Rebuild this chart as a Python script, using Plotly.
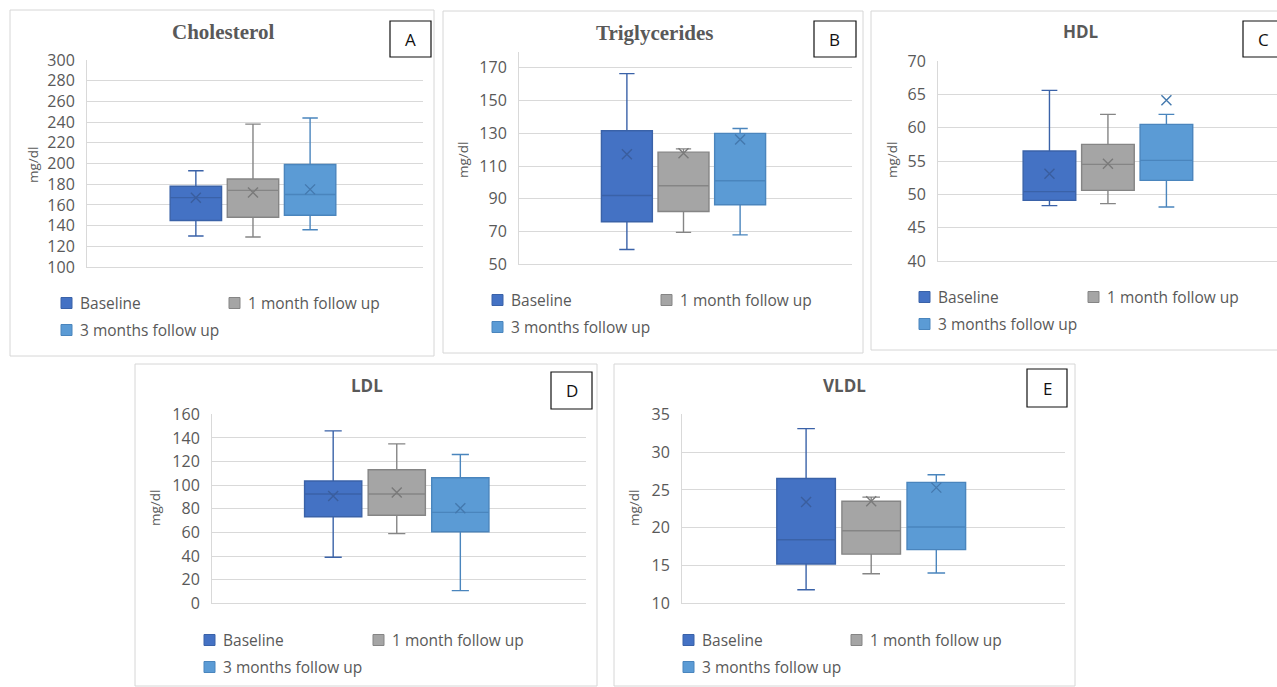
import plotly.graph_objects as go

W, H = 1277, 687

groups = ["Baseline", "1 month follow up", "3 months follow up"]
fills = ["#4472C4", "#A5A5A5", "#5B9BD5"]
edges = ["#3A62A8", "#858585", "#4A85BD"]
mean_colors = ["#3A5E9E", "#7A7A7A", "#4479AE"]

# Five-number summaries plus mean: [Baseline, 1 month, 3 months]
chol_low = [130, 129, 136]
chol_q1 = [145, 148, 150]
chol_med = [167, 174, 170]
chol_q3 = [178, 185, 199]
chol_high = [193, 238, 244]
chol_mean = [167, 172, 175]

tg_low = [59, 69.5, 68]
tg_q1 = [76, 82.3, 86.4]
tg_med = [92, 98, 101]
tg_q3 = [131.6, 118.5, 130]
tg_high = [166.5, 120.5, 133]
tg_mean = [117.2, 117.8, 126.3]

hdl_low = [48.3, 48.6, 48.1]
hdl_q1 = [49.1, 50.6, 52.1]
hdl_med = [50.4, 54.5, 55.1]
hdl_q3 = [56.5, 57.5, 60.5]
hdl_high = [65.6, 62.0, 62.0]
hdl_mean = [53.1, 54.6, 64.1]

ldl_low = [39, 59, 10.7]
ldl_q1 = [73.3, 74.5, 60.6]
ldl_med = [92.5, 92.5, 77]
ldl_q3 = [103.5, 113, 106.3]
ldl_high = [146, 135, 126]
ldl_mean = [90.8, 93.8, 80.5]

vldl_low = [11.8, 13.9, 14.0]
vldl_q1 = [15.2, 16.5, 17.1]
vldl_med = [18.4, 19.6, 20.1]
vldl_q3 = [26.5, 23.5, 26.0]
vldl_high = [33.1, 24.05, 27.0]
vldl_mean = [23.4, 23.5, 25.3]

panels = [
    dict(title="Cholesterol", serif=True, letter="A",
         low=chol_low, q1=chol_q1, med=chol_med, q3=chol_q3, high=chol_high, mean=chol_mean,
         yrange=[100, 300], ticks=list(range(100, 301, 20)),
         px=(87, 423), py=(60, 267), frame=(10, 10, 434, 356),
         title_xy=(223, 32), letter_box=(390, 21, 431, 57), ytitle_xy=(33, 165),
         leg=(61, 229, 303, 330)),
    dict(title="Triglycerides", serif=True, letter="B",
         low=tg_low, q1=tg_q1, med=tg_med, q3=tg_q3, high=tg_high, mean=tg_mean,
         yrange=[50, 180], ticks=list(range(50, 171, 20)),
         px=(519, 852), py=(51.5, 264.3), frame=(443, 11, 863, 353),
         title_xy=(654, 33), letter_box=(814, 21, 856, 57), ytitle_xy=(463, 160),
         leg=(492, 661, 300, 327)),
    dict(title="HDL", serif=False, letter="C",
         low=hdl_low, q1=hdl_q1, med=hdl_med, q3=hdl_q3, high=hdl_high, mean=hdl_mean,
         yrange=[40, 70], ticks=list(range(40, 71, 5)),
         px=(938, 1282), py=(61, 261), frame=(871, 11, 1290, 350),
         title_xy=(1081, 31), letter_box=(1243, 21, 1290, 57), ytitle_xy=(892, 160),
         leg=(919, 1088, 297, 324)),
    dict(title="LDL", serif=False, letter="D",
         low=ldl_low, q1=ldl_q1, med=ldl_med, q3=ldl_q3, high=ldl_high, mean=ldl_mean,
         yrange=[0, 160], ticks=list(range(0, 161, 20)),
         px=(212, 586), py=(414.3, 603.3), frame=(135, 364, 597, 686),
         title_xy=(367, 385), letter_box=(551, 372, 592, 409), ytitle_xy=(155, 508),
         leg=(204, 373, 640, 667)),
    dict(title="VLDL", serif=False, letter="E",
         low=vldl_low, q1=vldl_q1, med=vldl_med, q3=vldl_q3, high=vldl_high, mean=vldl_mean,
         yrange=[10, 35], ticks=list(range(10, 36, 5)),
         px=(682, 1065), py=(414.3, 603.3), frame=(614, 364, 1075, 686),
         title_xy=(844, 385), letter_box=(1027, 369, 1067, 407), ytitle_xy=(634, 508),
         leg=(683, 851, 640, 667)),
]

offsets = [-0.176, -0.006, 0.164]
box_w = 0.153
text_col = "#595959"
grid_col = "#D9D9D9"
sans = "Open Sans, Noto Sans, sans-serif"
serif = "Liberation Serif, DejaVu Serif, serif"

fig = go.Figure()
shapes, annotations = [], []


def fx(v):
    return v / W


def fy(v):
    return 1 - v / H


def label(text, x, y, font, **kw):
    d = dict(text=text, xref="paper", yref="paper", x=fx(x), y=fy(y),
             xanchor="center", yanchor="middle", showarrow=False, font=font)
    d.update(kw)
    annotations.append(d)


for i, p in enumerate(panels):
    n = "" if i == 0 else str(i + 1)
    xa, ya = "x" + n, "y" + n
    x0, x1 = p["px"]
    full_w = x1 - x0
    x1c = min(x1, W)
    xr = [-0.5, -0.5 + (x1c - x0) / full_w]

    for k in range(3):
        fig.add_trace(go.Box(
            x=[offsets[k]], q1=[p["q1"][k]], median=[p["med"][k]], q3=[p["q3"][k]],
            lowerfence=[p["low"][k]], upperfence=[p["high"][k]],
            width=box_w, whiskerwidth=0.3, fillcolor=fills[k],
            line=dict(color=edges[k], width=1.4), name=groups[k],
            boxpoints=False, showlegend=False, hoverinfo="skip",
            xaxis=xa, yaxis=ya))
        fig.add_trace(go.Scatter(
            x=[offsets[k]], y=[p["mean"][k]], mode="markers",
            marker=dict(symbol="x-thin", size=10,
                        line=dict(color=mean_colors[k], width=1.4)),
            showlegend=False, hoverinfo="skip", xaxis=xa, yaxis=ya))

    fig.layout["xaxis" + n] = dict(
        domain=[fx(x0), fx(x1c)], range=xr, anchor=ya,
        showticklabels=False, showgrid=False, zeroline=False,
        showline=True, linecolor=grid_col, linewidth=1, fixedrange=True)
    fig.layout["yaxis" + n] = dict(
        domain=[fy(p["py"][1]), fy(p["py"][0])], range=p["yrange"], anchor=xa,
        tickvals=p["ticks"], showgrid=True, gridcolor=grid_col, gridwidth=1,
        zeroline=False, showline=True, linecolor=grid_col, linewidth=1,
        ticks="", ticklabelstandoff=8,
        tickfont=dict(family=sans, size=16, color=text_col), fixedrange=True)

    # panel frame
    fx0, fy0, fx1, fy1 = p["frame"]
    shapes.append(dict(type="rect", xref="paper", yref="paper",
                       x0=fx(fx0), x1=fx(fx1), y0=fy(fy1), y1=fy(fy0),
                       line=dict(color="#D6D6D6", width=1), layer="below"))
    # letter box
    lx0, ly0, lx1, ly1 = p["letter_box"]
    shapes.append(dict(type="rect", xref="paper", yref="paper",
                       x0=fx(lx0), x1=fx(lx1), y0=fy(ly1), y1=fy(ly0),
                       line=dict(color="#111111", width=1.2), fillcolor="white"))
    lcx = (lx0 + lx1) / 2 if lx1 <= W else lx0 + 20
    label(p["letter"], lcx, (ly0 + ly1) / 2,
          dict(family=sans, size=17, color="#111111"))
    # title
    tx, ty = p["title_xy"]
    if p["serif"]:
        tfont = dict(family=serif, size=21, color=text_col, weight="bold")
    else:
        tfont = dict(family=sans, size=17, color=text_col, weight="bold")
    label(p["title"], tx, ty, tfont)
    # y axis title
    ax_, ay_ = p["ytitle_xy"]
    label("mg/dl", ax_, ay_, dict(family=sans, size=13.5, color=text_col), textangle=-90)
    # legend
    lc1, lc2, r1, r2 = p["leg"]
    for k, (cx, cy) in enumerate([(lc1, r1), (lc2, r1), (lc1, r2)]):
        shapes.append(dict(type="rect", xref="paper", yref="paper",
                           x0=fx(cx), x1=fx(cx + 11), y0=fy(cy + 5.5), y1=fy(cy - 5.5),
                           fillcolor=fills[k], line=dict(color=edges[k], width=1)))
        label(groups[k], cx + 17, cy, dict(family=sans, size=15.5, color=text_col),
              xanchor="left")

fig.update_layout(
    width=W, height=H, autosize=False,
    margin=dict(l=0, r=0, t=0, b=0, pad=0, autoexpand=False),
    paper_bgcolor="white", plot_bgcolor="white",
    shapes=shapes, annotations=annotations, showlegend=False,
)

fig.write_html("out.html", config={"displayModeBar": False, "responsive": False})
